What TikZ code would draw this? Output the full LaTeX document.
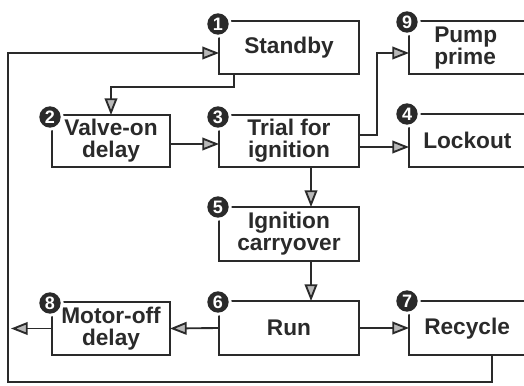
\documentclass[tikz,border=0pt]{standalone}
\usepackage{fontspec}
\setmainfont{Liberation Sans}
\usetikzlibrary{arrows.meta,calc}
\definecolor{ink}{HTML}{2A2A2A}
\begin{document}
\begin{tikzpicture}[x=0.75pt,y=-0.75pt,
  box/.style={draw=ink,line width=1.4pt,inner sep=0pt,outer sep=0pt,align=center,text=ink,
    font=\fontsize{17}{16.5}\selectfont\bfseries},
  lbl/.style={inner sep=0pt,align=left,text=ink,anchor=west,
    font=\fontsize{17}{16.5}\selectfont\bfseries},
  badge/.style={circle,fill=ink,text=white,inner sep=0pt,minimum size=16pt,
    preaction={draw=white,line width=4.5pt},font=\fontsize{13.5}{13.5}\selectfont\bfseries},
  arr/.style={draw=ink,line width=1.4pt,-{Triangle[length=12.5pt,width=9.5pt,fill=gray!55]}}]
\useasboundingbox (0,0) rectangle (524,385);
\clip (0,0) rectangle (524,385);
% boxes
\node[box,minimum width=105pt,minimum height=39.75pt] (std) at (289,47.5) {Standby};
\node[box,minimum width=88.5pt,minimum height=39pt] (valve) at (111,141) {Valve-on\\delay};
\node[box,minimum width=105pt,minimum height=39pt] (trial) at (289,141) {Trial for\\ignition};
\node[box,minimum width=105pt,minimum height=40.5pt] (ign) at (289,234) {Ignition\\carryover};
\node[box,minimum width=105pt,minimum height=40.5pt] (run) at (289,328) {Run};
\node[box,minimum width=88.5pt,minimum height=39.75pt] (mot) at (111,328.5) {Motor-off\\delay};
\node[box,minimum width=98.25pt,minimum height=39.75pt] (pump) at (474.5,47.5) {};
\node[box,minimum width=98.25pt,minimum height=39.75pt] (lock) at (474.5,140.5) {};
\node[box,minimum width=98.25pt,minimum height=40.5pt] (rec) at (474.5,328) {};
\node[lbl] (pumpt) at (434,48) {Pump\\prime};
\node[lbl] (lockt) at (423,140) {Lockout};
\node[lbl] (rect) at (424,329) {Recycle};
% connectors
\coordinate (fbA) at (492,382);
\coordinate (fbB) at (8,382);
\draw[arr] (rec.south -| fbA) -- (fbA) -- (fbB) |- ($(std.west)+(0,5.5)$);
\draw[arr] ($(std.south west)+(15,0)$) -- ++(0,13) -| (valve.north);
\draw[arr] ($(valve.east)+(0,3)$) -- ($(trial.west)+(0,3)$);
\draw[arr] ($(trial.east)+(0,-6)$) -| ($(pump.west)+(-32,5.5)$) -- ($(pump.west)+(0,5.5)$);
\draw[arr] ($(trial.east)+(0,6)$) coordinate (t4) -- (lock.west |- t4);
\draw[arr] ($(trial.south)+(22,0)$) -- ($(ign.north)+(22,0)$);
\draw[arr] ($(ign.south)+(22,0)$) -- ($(run.north)+(22,0)$);
\draw[arr] (run.east) -- (rec.west);
\draw[arr] (run.west) -- (mot.east);
\coordinate (mout) at (11,328.5);
\draw[arr] (mot.west) -- (mout);
% badges
\node[badge] (b1) at ($(std.north west)+(-1,3)$) {1};
\node[badge] (b2) at ($(valve.north west)+(-2,2)$) {2};
\node[badge] (b3) at ($(trial.north west)+(-1,2)$) {3};
\node[badge] (b4) at ($(lock.north west)+(-2,0)$) {4};
\node[badge] (b5) at ($(ign.north west)+(-1,0)$) {5};
\node[badge] (b6) at ($(run.north west)+(-1,1)$) {6};
\node[badge] (b7) at ($(rec.north west)+(-2,0)$) {7};
\node[badge] (b8) at ($(mot.north west)+(-2,1)$) {8};
\node[badge] (b9) at ($(pump.north west)+(-2,1)$) {9};
\end{tikzpicture}
\end{document}
